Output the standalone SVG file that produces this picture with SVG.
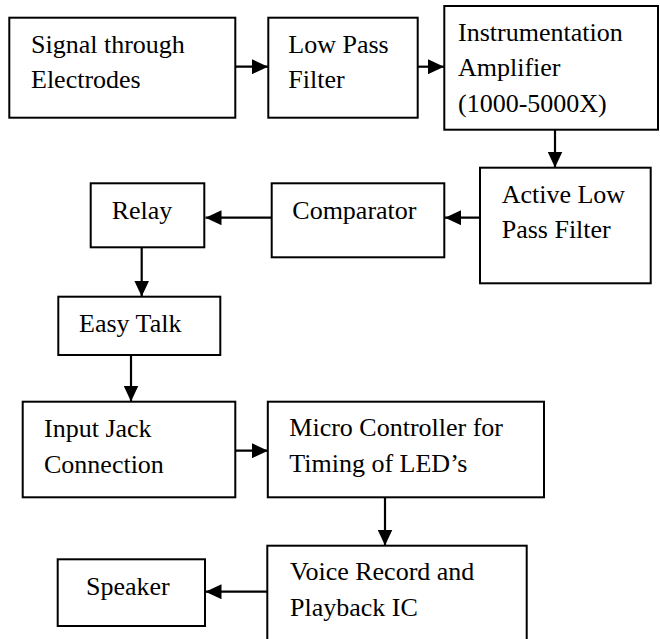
<svg xmlns="http://www.w3.org/2000/svg" width="660" height="639" viewBox="0 0 660 639">
  <style>
    .box { fill: #ffffff; stroke: #000000; stroke-width: 2; }
    .lbl { font-family: "Liberation Serif", "Times New Roman", serif; font-size: 26px; fill: #000000; }
    .wire { fill: none; stroke: #000000; stroke-width: 2.2; marker-end: url(#head); }
  </style>
  <defs>
    <marker id="head" markerUnits="userSpaceOnUse" markerWidth="16" markerHeight="15" refX="16" refY="7.5" orient="auto">
      <path d="M0,0 L16,7.5 L0,15 Z" fill="#000000"/>
    </marker>
  </defs>
  <rect width="660" height="639" fill="#ffffff"/>

  <g id="connectors">
    <path class="wire" d="M233,66.7 H268"/>
    <path class="wire" d="M417.7,66.7 H444"/>
    <path class="wire" d="M555,129.3 V167.5"/>
    <path class="wire" d="M481,217.7 H445"/>
    <path class="wire" d="M271.7,217.7 H205.5"/>
    <path class="wire" d="M141.7,247.3 V296.5"/>
    <path class="wire" d="M131,355 V401.5"/>
    <path class="wire" d="M235.3,450.7 H268"/>
    <path class="wire" d="M385,497.3 V545.5"/>
    <path class="wire" d="M271.7,591.7 H205.5"/>
  </g>

  <g id="signal-electrodes">
    <rect class="box" x="9.3" y="17.7" width="226" height="100"/>
    <text class="lbl" x="31" y="53.3">Signal through</text>
    <text class="lbl" x="31" y="88.3">Electrodes</text>
  </g>

  <g id="low-pass-filter">
    <rect class="box" x="268.3" y="17.7" width="149.4" height="100"/>
    <text class="lbl" x="288.3" y="53.3">Low Pass</text>
    <text class="lbl" x="288.3" y="88.3">Filter</text>
  </g>

  <g id="instrumentation-amplifier">
    <rect class="box" x="444.3" y="6" width="213.7" height="123.7"/>
    <text class="lbl" x="458" y="40.7">Instrumentation</text>
    <text class="lbl" x="458" y="76">Amplifier</text>
    <text class="lbl" x="458" y="111.5">(1000-5000X)</text>
  </g>

  <g id="active-low-pass-filter">
    <rect class="box" x="480" y="167.7" width="170.7" height="115.6"/>
    <text class="lbl" x="501.7" y="202.7">Active Low</text>
    <text class="lbl" x="501.7" y="238.3">Pass Filter</text>
  </g>

  <g id="comparator">
    <rect class="box" x="271.7" y="183.3" width="172.6" height="74"/>
    <text class="lbl" x="292.3" y="218.8">Comparator</text>
  </g>

  <g id="relay">
    <rect class="box" x="90.7" y="183.3" width="113.6" height="64"/>
    <text class="lbl" x="111.7" y="219.3">Relay</text>
  </g>

  <g id="easy-talk">
    <rect class="box" x="58.3" y="296.7" width="162" height="58.3"/>
    <text class="lbl" x="79" y="331.7">Easy Talk</text>
  </g>

  <g id="input-jack">
    <rect class="box" x="22.7" y="401.7" width="212.6" height="95.6"/>
    <text class="lbl" x="44" y="436.7">Input Jack</text>
    <text class="lbl" x="44" y="472.7">Connection</text>
  </g>

  <g id="micro-controller">
    <rect class="box" x="267.8" y="401.7" width="276.2" height="95.6"/>
    <text class="lbl" x="289.3" y="436">Micro Controller for</text>
    <text class="lbl" x="289.3" y="471.7">Timing of LED’s</text>
  </g>

  <g id="voice-record-ic">
    <rect class="box" x="267.3" y="545.7" width="259.4" height="97"/>
    <text class="lbl" x="290" y="580">Voice Record and</text>
    <text class="lbl" x="290" y="616">Playback IC</text>
  </g>

  <g id="speaker">
    <rect class="box" x="57.7" y="559.3" width="147.3" height="66.7"/>
    <text class="lbl" x="86" y="595">Speaker</text>
  </g>
</svg>
